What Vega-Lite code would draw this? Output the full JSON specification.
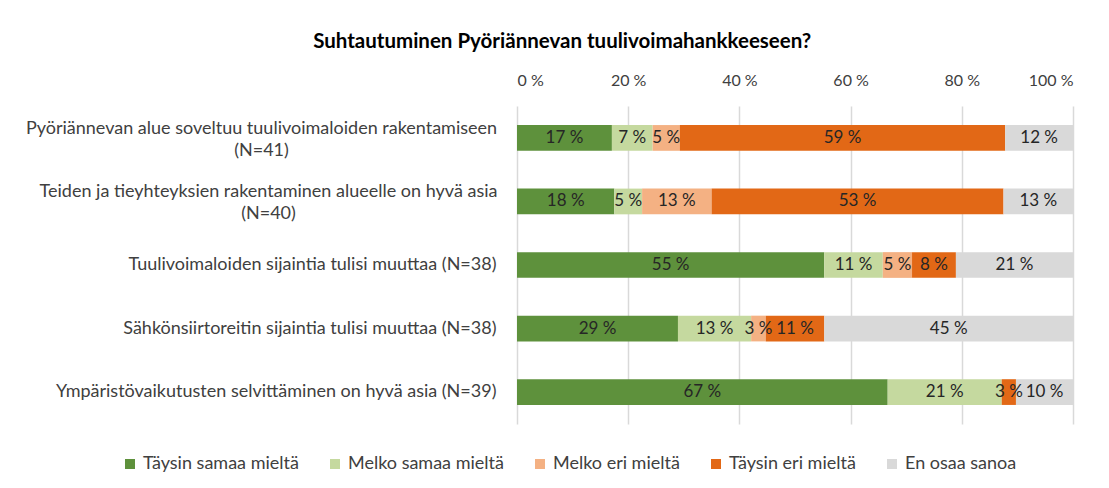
{
  "$schema": "https://vega.github.io/schema/vega-lite/v6.json",
  "width": 556,
  "height": 318,
  "autosize": {"type": "none"},
  "padding": {"left": 517, "top": 106, "right": 36, "bottom": 64},
  "background": "white",
  "title": {
    "text": "Suhtautuminen Pyöriännevan tuulivoimahankkeeseen?",
    "font": "Lato", "fontSize": 20.5, "fontWeight": "bold", "color": "#000000",
    "anchor": "middle", "frame": "bounds", "offset": 20, "dx": 13
  },
  "config": {"view": {"stroke": null}},
  "data": {
    "values": [
      {"q": "Pyöriännevan alue soveltuu tuulivoimaloiden rakentamiseen|(N=41)", "cat": "Täysin samaa mieltä", "o": 1, "pct": 17.07},
      {"q": "Pyöriännevan alue soveltuu tuulivoimaloiden rakentamiseen|(N=41)", "cat": "Melko samaa mieltä", "o": 2, "pct": 7.32},
      {"q": "Pyöriännevan alue soveltuu tuulivoimaloiden rakentamiseen|(N=41)", "cat": "Melko eri mieltä", "o": 3, "pct": 4.88},
      {"q": "Pyöriännevan alue soveltuu tuulivoimaloiden rakentamiseen|(N=41)", "cat": "Täysin eri mieltä", "o": 4, "pct": 58.54},
      {"q": "Pyöriännevan alue soveltuu tuulivoimaloiden rakentamiseen|(N=41)", "cat": "En osaa sanoa", "o": 5, "pct": 12.19},
      {"q": "Teiden ja tieyhteyksien rakentaminen alueelle on hyvä asia|(N=40)", "cat": "Täysin samaa mieltä", "o": 1, "pct": 17.5},
      {"q": "Teiden ja tieyhteyksien rakentaminen alueelle on hyvä asia|(N=40)", "cat": "Melko samaa mieltä", "o": 2, "pct": 5},
      {"q": "Teiden ja tieyhteyksien rakentaminen alueelle on hyvä asia|(N=40)", "cat": "Melko eri mieltä", "o": 3, "pct": 12.5},
      {"q": "Teiden ja tieyhteyksien rakentaminen alueelle on hyvä asia|(N=40)", "cat": "Täysin eri mieltä", "o": 4, "pct": 52.5},
      {"q": "Teiden ja tieyhteyksien rakentaminen alueelle on hyvä asia|(N=40)", "cat": "En osaa sanoa", "o": 5, "pct": 12.5},
      {"q": "Tuulivoimaloiden sijaintia tulisi muuttaa (N=38)", "cat": "Täysin samaa mieltä", "o": 1, "pct": 55.26},
      {"q": "Tuulivoimaloiden sijaintia tulisi muuttaa (N=38)", "cat": "Melko samaa mieltä", "o": 2, "pct": 10.53},
      {"q": "Tuulivoimaloiden sijaintia tulisi muuttaa (N=38)", "cat": "Melko eri mieltä", "o": 3, "pct": 5.26},
      {"q": "Tuulivoimaloiden sijaintia tulisi muuttaa (N=38)", "cat": "Täysin eri mieltä", "o": 4, "pct": 7.89},
      {"q": "Tuulivoimaloiden sijaintia tulisi muuttaa (N=38)", "cat": "En osaa sanoa", "o": 5, "pct": 21.06},
      {"q": "Sähkönsiirtoreitin sijaintia tulisi muuttaa (N=38)", "cat": "Täysin samaa mieltä", "o": 1, "pct": 28.95},
      {"q": "Sähkönsiirtoreitin sijaintia tulisi muuttaa (N=38)", "cat": "Melko samaa mieltä", "o": 2, "pct": 13.16},
      {"q": "Sähkönsiirtoreitin sijaintia tulisi muuttaa (N=38)", "cat": "Melko eri mieltä", "o": 3, "pct": 2.63},
      {"q": "Sähkönsiirtoreitin sijaintia tulisi muuttaa (N=38)", "cat": "Täysin eri mieltä", "o": 4, "pct": 10.53},
      {"q": "Sähkönsiirtoreitin sijaintia tulisi muuttaa (N=38)", "cat": "En osaa sanoa", "o": 5, "pct": 44.73},
      {"q": "Ympäristövaikutusten selvittäminen on hyvä asia (N=39)", "cat": "Täysin samaa mieltä", "o": 1, "pct": 66.67},
      {"q": "Ympäristövaikutusten selvittäminen on hyvä asia (N=39)", "cat": "Melko samaa mieltä", "o": 2, "pct": 20.51},
      {"q": "Ympäristövaikutusten selvittäminen on hyvä asia (N=39)", "cat": "Melko eri mieltä", "o": 3, "pct": 0},
      {"q": "Ympäristövaikutusten selvittäminen on hyvä asia (N=39)", "cat": "Täysin eri mieltä", "o": 4, "pct": 2.56},
      {"q": "Ympäristövaikutusten selvittäminen on hyvä asia (N=39)", "cat": "En osaa sanoa", "o": 5, "pct": 10.26}
    ]
  },
  "transform": [
    {"stack": "pct", "groupby": ["q"], "sort": [{"field": "o"}], "as": ["x0", "x1"]},
    {"calculate": "(datum.x0 + datum.x1) / 2", "as": "mid"},
    {"calculate": "format(datum.pct, '.0f') + ' %'", "as": "label"}
  ],
  "encoding": {
    "y": {
      "field": "q", "type": "nominal", "sort": null,
      "scale": {"paddingInner": 0.595, "paddingOuter": 0.3},
      "axis": {
        "title": null, "domain": false, "ticks": false, "grid": false,
        "labelFont": "Lato", "labelFontSize": 18,
        "labelColor": "#404040", "labelLimit": 700, "labelLineHeight": 22,
        "labelOffset": {"condition": {"test": "indexof(datum.value, '|') > 0", "value": -9}, "value": 0},
        "labelAlign": {"condition": {"test": "indexof(datum.value, '|') > 0", "value": "center"}, "value": "right"},
        "labelPadding": {"condition": [
          {"test": "indexof(datum.value, '|(N=41)') > 0", "value": 256},
          {"test": "indexof(datum.value, '|(N=40)') > 0", "value": 249}
        ], "value": 21},
        "labelExpr": "indexof(datum.value, '|') > 0 ? split(datum.value, '|') : datum.value"
      }
    }
  },
  "layer": [
    {
      "mark": {"type": "bar"},
      "encoding": {
        "x": {
          "field": "x0", "type": "quantitative",
          "scale": {"domain": [0, 100], "nice": false},
          "axis": {
            "orient": "top", "title": null, "values": [0, 20, 40, 60, 80, 100],
            "labelExpr": "datum.value + ' %'", "grid": true, "gridColor": "#d9d9d9",
            "gridWidth": 1.5, "domain": false, "ticks": false, "labelPadding": 18,
            "labelFont": "Lato", "labelFontSize": 16, "labelColor": "#404040"
          }
        },
        "x2": {"field": "x1"},
        "color": {
          "field": "cat", "type": "nominal",
          "scale": {
            "domain": ["Täysin samaa mieltä", "Melko samaa mieltä", "Melko eri mieltä", "Täysin eri mieltä", "En osaa sanoa"],
            "range": ["#5E913C", "#C5D99F", "#F4B183", "#E26816", "#D9D9D9"]
          },
          "legend": {
            "orient": "none", "legendX": -396, "legendY": 349, "direction": "horizontal",
            "title": null, "symbolType": "square", "symbolSize": 100, "symbolStrokeWidth": 0,
            "labelFont": "Lato", "labelFontSize": 18, "labelColor": "#404040",
            "labelOffset": 4, "columnPadding": 27
          }
        }
      }
    },
    {
      "transform": [{"filter": "datum.pct > 0"}],
      "mark": {"type": "text", "align": "center", "baseline": "middle", "font": "Lato", "fontSize": 17, "color": "#262626"},
      "encoding": {
        "x": {"field": "mid", "type": "quantitative", "title": null},
        "text": {"field": "label", "type": "nominal"}
      }
    }
  ]
}
